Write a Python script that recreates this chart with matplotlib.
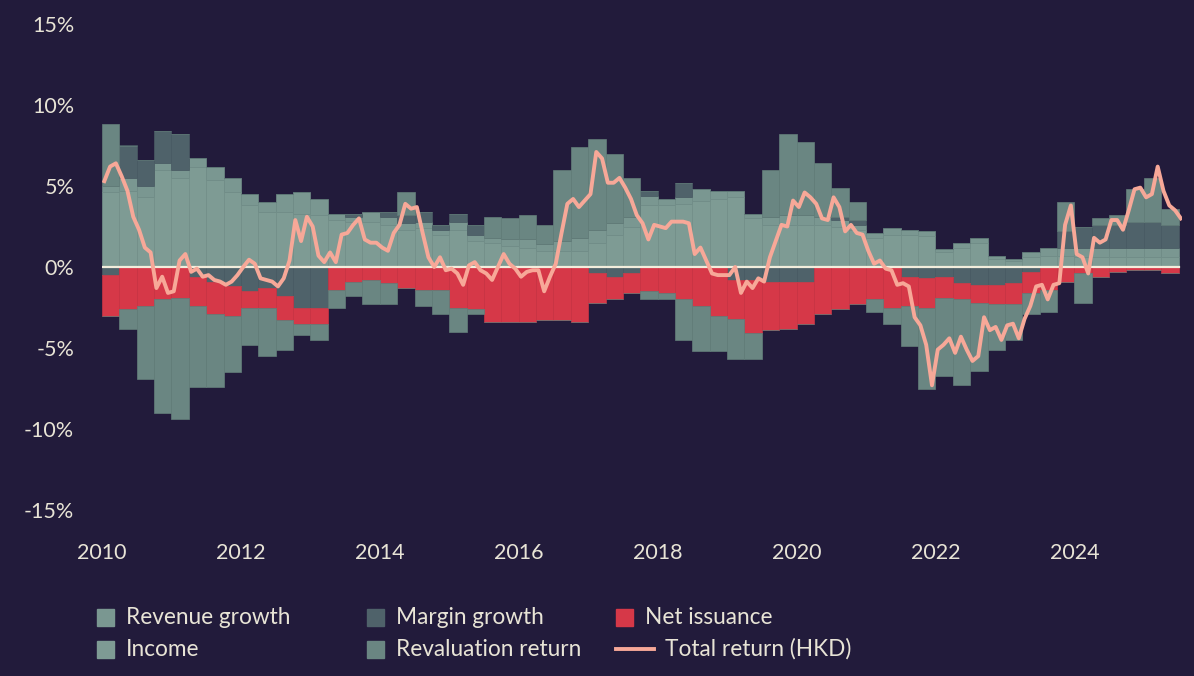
import numpy as np
import matplotlib.pyplot as plt
from matplotlib.patches import Rectangle
from matplotlib.lines import Line2D

plt.rcParams['font.family'] = ['Lato', 'DejaVu Sans']

# quarterly contributions (%), 2010Q1 .. 2025Q2
quarters = 2010 + np.arange(62) * 0.25
income = [4.6, 4.7, 4.3, 6.0, 5.5, 6.2, 5.4, 4.6, 3.8, 3.4, 3.4, 3.3, 3.2, 2.9, 2.8, 2.8,
          2.6, 2.3, 2.4, 2.0, 2.3, 1.6, 1.5, 1.3, 1.2, 1.0, 1.0, 1.0, 1.5, 2.0, 2.5, 3.8,
          3.8, 3.9, 4.1, 4.2, 4.3, 3.0, 2.6, 2.6, 2.6, 2.6, 2.5, 2.3, 1.8, 2.0, 2.0, 1.9,
          0.9, 1.2, 1.5, 0.5, 0.4, 0.6, 0.7, 0.7, 0.6, 0.6, 0.6, 0.6, 0.6, 0.6]
revenue = [0.4, 0.8, 0.7, 0.4, 0.5, 0.5, 0.8, 0.9, 0.7, 0.6, 1.1, 1.3, 1.0, 0.4, 0.3, 0.6,
           0.5, 0.4, 0.4, 0.3, 0.5, 0.4, 0.3, 0.4, 0.5, 0.4, 0.6, 0.8, 0.8, 0.7, 0.6, 0.6,
           0.4, 0.4, 0.7, 0.5, 0.4, 0.3, 0.5, 0.6, 0.6, 0.5, 0.4, 0.3, 0.3, 0.4, 0.3, 0.3,
           0.2, 0.3, 0.3, 0.2, 0.1, 0.3, 0.5, 0.5, 0.6, 0.6, 0.6, 0.6, 0.6, 0.6]
margin = [-0.5, 2.0, 1.6, 2.0, 2.2, -0.6, -0.9, -1.2, -1.5, -1.3, -1.8, -2.5, -2.5, 0.0, 0.2, 0.0,
          0.3, 0.5, 0.6, 0.3, 0.5, 0.6, 0.0, 0.0, 0.0, 0.0, 0.0, 0.0, -0.4, -0.6, -0.4, 0.3,
          0.0, 0.9, 0.0, 0.0, -0.8, -0.8, -0.9, -0.9, -0.9, 0.0, 0.2, 0.3, 0.0, 0.0, -0.6, -0.7,
          -0.6, -1.0, -1.1, -1.1, -1.0, -0.3, 0.0, 1.0, 1.3, 1.4, 1.4, 1.6, 1.6, 1.4]
revaluation = [3.8, -1.2, -4.5, -7.0, -7.5, -5.0, -4.5, -3.5, -2.3, -3.0, -1.8, -0.7, -1.0, -1.1, -0.9, -1.5,
               -1.3, 1.4, -1.0, -1.5, -1.5, -0.3, 1.3, 1.3, 1.5, 1.2, 4.4, 5.6, 5.6, 4.3, 2.4, -0.5,
               -0.4, -2.5, -2.8, -2.2, -2.5, -1.6, 2.9, 5.0, 4.5, 3.3, 1.8, 1.1, -0.8, -1.0, -2.5, -5.0,
               -4.8, -5.3, -4.2, -2.8, -2.2, -1.3, -1.4, 1.8, -1.8, 0.4, 0.6, 2.0, 2.7, 1.0]
net_issuance = [-2.5, -2.6, -2.4, -2.0, -1.9, -1.8, -2.0, -1.8, -1.0, -1.2, -1.5, -1.0, -1.0, -1.4, -0.9, -0.8,
                -1.0, -1.3, -1.4, -1.4, -2.5, -2.6, -3.4, -3.4, -3.4, -3.3, -3.3, -3.4, -1.8, -1.4, -1.2, -1.5,
                -1.6, -2.0, -2.4, -3.0, -2.4, -3.3, -3.0, -2.9, -2.6, -2.9, -2.6, -2.3, -2.0, -2.5, -1.8, -1.8,
                -1.3, -1.0, -1.1, -1.2, -1.3, -1.3, -1.4, -0.9, -0.4, -0.6, -0.3, -0.2, -0.2, -0.35]

# monthly total return (HKD, %), Jan 2010 .. Jul 2025
months = 2010 + (np.arange(187) + 0.4) / 12
total_return = [5.3, 6.2, 6.4, 5.6, 4.7, 3.1, 2.3, 1.2, 0.9, -1.3, -0.6, -1.6, -1.5, 0.4, 0.8, -0.3,
                -0.1, -0.6, -0.5, -0.8, -0.9, -1.1, -0.9, -0.5, 0.0, 0.45, 0.2, -0.7, -0.8, -0.9, -1.2, -0.7,
                0.4, 2.9, 1.6, 3.1, 2.5, 0.7, 0.3, 0.9, 0.3, 2.0, 2.1, 2.6, 3.0, 1.7, 1.5, 1.5,
                1.2, 1.0, 2.1, 2.6, 3.9, 3.6, 3.7, 2.1, 0.6, 0.0, 0.6, -0.2, -0.1, -0.4, -1.1, 0.1,
                0.3, -0.2, -0.4, -0.8, 0.0, 0.8, 0.2, -0.1, -0.6, -0.3, -0.2, -0.2, -1.5, -0.6, 0.2, 2.1,
                3.9, 4.2, 3.7, 4.1, 4.5, 7.1, 6.7, 5.2, 5.2, 5.5, 4.9, 4.2, 3.2, 2.7, 1.7, 2.6,
                2.5, 2.4, 2.8, 2.8, 2.8, 2.7, 0.8, 1.2, 0.4, -0.4, -0.5, -0.5, -0.5, 0.0, -1.6, -0.9,
                -1.3, -0.7, -0.9, 0.6, 1.6, 2.6, 2.5, 4.1, 3.7, 4.6, 4.3, 3.9, 3.0, 2.9, 4.3, 3.7,
                2.2, 2.6, 2.1, 2.0, 1.0, 0.2, 0.4, -0.1, -0.2, -1.1, -1.0, -1.2, -3.1, -3.6, -4.8, -7.3,
                -5.1, -4.8, -4.4, -5.3, -4.3, -5.1, -5.8, -5.5, -3.1, -3.9, -3.7, -4.5, -3.6, -3.5, -4.4, -3.2,
                -2.4, -1.2, -1.1, -2.0, -1.1, -1.0, 2.6, 3.8, 0.8, 0.6, -0.4, 1.8, 1.5, 1.7, 2.9, 2.9,
                2.3, 3.5, 4.8, 4.9, 4.3, 4.5, 6.2, 4.7, 3.8, 3.5, 3.0]

year_ticks = [2010, 2012, 2014, 2016, 2018, 2020, 2022, 2024]
pct_ticks = [-15, -10, -5, 0, 5, 10, 15]
pct_labels = ['-15%', '-10%', '-5%', '0%', '5%', '10%', '15%']

bg = '#221B3B'
txt = '#E8E4D6'
c_rev, c_inc, c_mar, c_val, c_net = '#7A9791', '#7E9B94', '#4F626A', '#6A8682', '#D63848'
e_rev, e_inc, e_mar, e_val, e_net = '#718E88', '#75928B', '#4A5C64', '#637E7A', '#CC3444'
c_line = '#F7A898'

W, H = 1194, 676
fig = plt.figure(figsize=(W / 100, H / 100), dpi=100, facecolor=bg)
ax = fig.add_axes([102 / W, 1 - 510 / H, 1080 / W, 486 / H])
ax.set_facecolor(bg)

# positive stack: income, revenue, margin, revaluation
pos_b = np.zeros(len(quarters))
for vals, c, e in [(income, c_inc, e_inc), (revenue, c_rev, e_rev),
                   (margin, c_mar, e_mar), (revaluation, c_val, e_val)]:
    v = np.clip(np.array(vals), 0, None)
    ax.bar(quarters, v, 0.25, bottom=pos_b, align='edge', color=c, edgecolor=e, linewidth=0.5)
    pos_b += v

# negative stack: margin, revenue, net issuance, revaluation
neg_b = np.zeros(len(quarters))
for vals, c, e in [(margin, c_mar, e_mar), (revenue, c_rev, e_rev),
                   (net_issuance, c_net, e_net), (revaluation, c_val, e_val)]:
    v = np.clip(np.array(vals), None, 0)
    ax.bar(quarters, v, 0.25, bottom=neg_b, align='edge', color=c, edgecolor=e, linewidth=0.5)
    neg_b += v

ax.plot([2010, 2025.5], [0, 0], color='#F2EDDC', lw=1.6, zorder=3)
ax.plot(months, total_return, color=c_line, lw=2.8, zorder=4, solid_joinstyle='round')

ax.set_xlim(2010, 2025.55)
ax.set_ylim(-15, 15)
ax.set_xticks(year_ticks)
ax.set_xticklabels([str(y) for y in year_ticks])
ax.set_yticks(pct_ticks)
ax.set_yticklabels(pct_labels)
ax.tick_params(axis='both', length=0, colors=txt, labelsize=15.5)
ax.tick_params(axis='x', pad=24)
ax.tick_params(axis='y', pad=20)
for s in ax.spines.values():
    s.set_visible(False)

# legend, drawn by hand to match the column layout
def fx(x):
    return x / W

def fy(y):
    return 1 - y / H

items = [
    (97, 617, 'Revenue growth', c_rev, 'box'),
    (97, 649, 'Income', c_inc, 'box'),
    (367, 617, 'Margin growth', c_mar, 'box'),
    (367, 649, 'Revaluation return', c_val, 'box'),
    (616, 617, 'Net issuance', c_net, 'box'),
    (616, 649, 'Total return (HKD)', c_line, 'line'),
]
for x, y, label, c, kind in items:
    if kind == 'box':
        fig.add_artist(Rectangle((fx(x), fy(y + 8.5)), 17 / W, 17 / H,
                                 transform=fig.transFigure, color=c))
        tx = x + 29
    else:
        fig.add_artist(Line2D([fx(x), fx(x + 38)], [fy(y), fy(y)],
                              transform=fig.transFigure, color=c, lw=2.8))
        tx = x + 49
    fig.text(fx(tx), fy(y), label, color=txt, fontsize=16.3, va='center', ha='left')

fig.savefig('out.png', dpi=100, facecolor=bg)
